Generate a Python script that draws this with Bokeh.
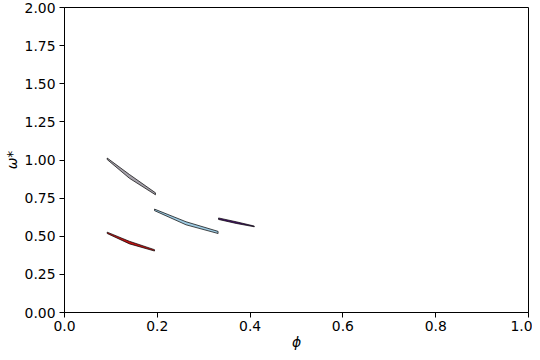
from bokeh.plotting import figure
from bokeh.models import FixedTicker, PrintfTickFormatter, Range1d
from bokeh.embed import file_html
from bokeh.resources import INLINE

# Bands: x positions with upper/lower edge of omega*
gray_x = [0.092, 0.140, 0.196]
gray_upper = [1.013, 0.905, 0.785]
gray_lower = [1.003, 0.880, 0.772]

blue_x = [0.194, 0.262, 0.331]
blue_upper = [0.678, 0.595, 0.532]
blue_lower = [0.668, 0.575, 0.518]

red_x = [0.092, 0.140, 0.194]
red_upper = [0.527, 0.467, 0.412]
red_lower = [0.518, 0.450, 0.403]

purple_x = [0.332, 0.370, 0.409]
purple_upper = [0.620, 0.595, 0.567]
purple_lower = [0.610, 0.584, 0.562]

x_ticks = [0.0, 0.2, 0.4, 0.6, 0.8, 1.0]
y_ticks = [0.0, 0.25, 0.5, 0.75, 1.0, 1.25, 1.5, 1.75, 2.0]

bands = [
    (gray_x, gray_upper, gray_lower, "#a5a1aa"),
    (blue_x, blue_upper, blue_lower, "#9ecae1"),
    (red_x, red_upper, red_lower, "#c01414"),
    (purple_x, purple_upper, purple_lower, "#4b1670"),
]

p = figure(width=532, height=352, output_backend="svg", toolbar_location=None,
           x_range=Range1d(0, 1), y_range=Range1d(0, 2),
           min_border_top=7, min_border_right=4, min_border_left=40, min_border_bottom=30)

for xs, up, lo, col in bands:
    px = list(xs) + list(reversed(xs))
    py = list(up) + list(reversed(lo))
    p.patch(px, py, fill_color=col, line_color="black", line_width=0.7)

p.xgrid.visible = False
p.ygrid.visible = False
p.outline_line_color = "black"
p.outline_line_width = 1
p.background_fill_color = "white"
p.border_fill_color = "white"

p.xaxis.ticker = FixedTicker(ticks=x_ticks)
p.yaxis.ticker = FixedTicker(ticks=y_ticks)
p.xaxis.formatter = PrintfTickFormatter(format="%.1f")
p.yaxis.formatter = PrintfTickFormatter(format="%.2f")
p.xaxis.axis_label = "ϕ"
p.yaxis.axis_label = "ω*"

for ax in (p.xaxis, p.yaxis):
    ax.major_tick_out = 5
    ax.major_tick_in = 0
    ax.minor_tick_line_color = None
    ax.major_label_standoff = 4
    ax.major_label_text_font = "DejaVu Sans"
    ax.major_label_text_font_size = "13.9px"
    ax.major_label_text_color = "black"
    ax.axis_label_text_font = "DejaVu Sans"
    ax.axis_label_text_font_size = "13.9px"
    ax.axis_label_text_font_style = "italic"
    ax.axis_label_text_color = "black"
    ax.axis_line_color = "black"
    ax.major_tick_line_color = "black"

p.xaxis.axis_label_standoff = 0
p.xaxis.major_label_standoff = 3
p.yaxis.axis_label_standoff = 2

open("out.html", "w").write(file_html(p, INLINE))
